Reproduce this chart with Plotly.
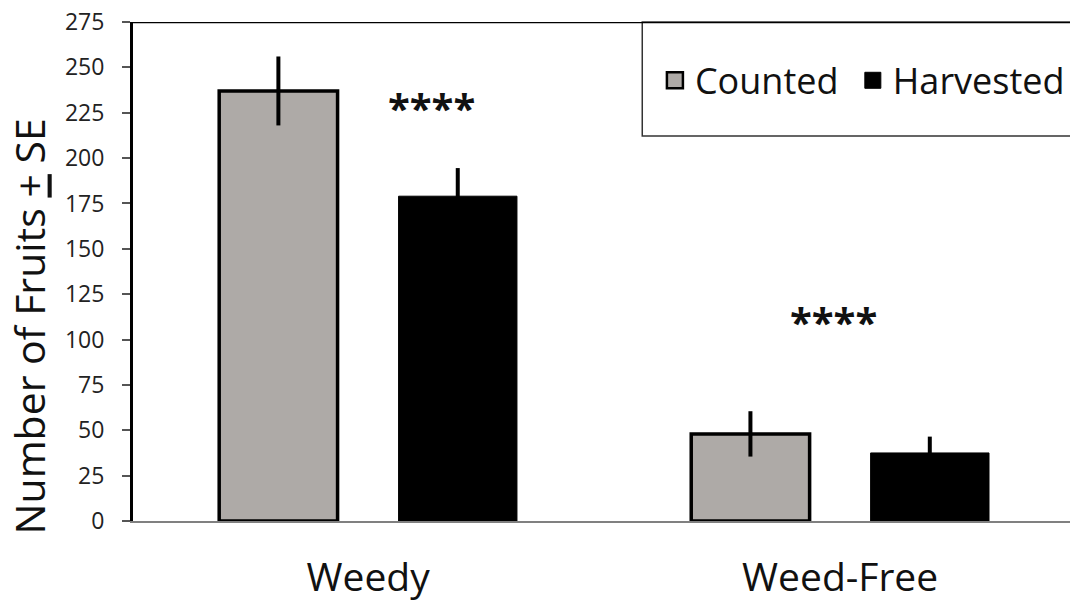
import plotly.graph_objects as go

categories = ["Weedy", "Weed-Free"]
series_names = ["Counted", "Harvested"]
counted = [237, 48]
counted_se = [19, 12.5]
harvested = [179, 37.5]
harvested_se = [15.5, 9]
y_ticks = [0, 25, 50, 75, 100, 125, 150, 175, 200, 225, 250, 275]
sig_labels = ["****", "****"]
sig_x = [0.135, 0.985]
sig_y = [228, 110]

FONT = "Open Sans"
GRAY = "#aeaaa7"

fig = go.Figure()
fig.add_trace(go.Bar(
    name=series_names[0], x=categories, y=counted, showlegend=False,
    marker=dict(color=GRAY, line=dict(color="black", width=3.5)),
    error_y=dict(type="data", array=counted_se, color="black", thickness=4, width=0),
))
fig.add_trace(go.Bar(
    name=series_names[1], x=categories, y=harvested, showlegend=False,
    marker=dict(color="black", line=dict(color="black", width=1)),
    error_y=dict(type="data", array=harvested_se, color="black", thickness=4, width=0),
))
# legend entries (square swatches)
fig.add_trace(go.Scatter(name=series_names[0] + "&nbsp;", x=[None], y=[None], mode="markers",
                         marker=dict(symbol="square", size=16, color=GRAY,
                                     line=dict(color="black", width=2.5))))
fig.add_trace(go.Scatter(name=series_names[1], x=[None], y=[None], mode="markers",
                         marker=dict(symbol="square", size=16, color="black",
                                     line=dict(color="black", width=1))))

annotations = []
for lbl, xx, yy in zip(sig_labels, sig_x, sig_y):
    annotations.append(dict(x=xx, y=yy, xref="x", yref="y", text="<b>" + lbl + "</b>", showarrow=False,
                            font=dict(family=FONT, size=40, color="#111111"),
                            xanchor="center", yanchor="middle"))
annotations.append(dict(x=-0.111, y=0.39, xref="paper", yref="paper",
                        text="Number of Fruits <u>+</u> SE", textangle=-90, showarrow=False,
                        font=dict(family=FONT, size=41, color="#111111"),
                        xanchor="center", yanchor="middle"))

fig.update_layout(
    template="none",
    width=1070, height=604,
    margin=dict(l=133, r=0, t=22, b=83, autoexpand=False),
    paper_bgcolor="white", plot_bgcolor="white",
    barmode="group", bargap=0.24, bargroupgap=0.34,
    showlegend=True,
    legend=dict(orientation="h", x=0.557, y=0.883, xanchor="left", yanchor="middle",
                bgcolor="rgba(0,0,0,0)", borderwidth=0, itemsizing="trace",
                font=dict(family=FONT, size=36, color="#111111"),
                itemwidth=30, traceorder="normal"),
    annotations=annotations,
    shapes=[
        dict(type="line", xref="paper", yref="y", x0=0, x1=1, y0=275, y1=275,
             line=dict(color="black", width=2.5)),
        dict(type="rect", xref="paper", yref="paper", x0=0.5435, x1=1.02, y0=0.7715, y1=1.0,
             line=dict(color="#333333", width=1.5), fillcolor="rgba(0,0,0,0)", layer="below"),
    ],
    xaxis=dict(range=[-0.498, 1.487], showline=True, linecolor="#808080", linewidth=2,
               ticks="", showgrid=False, zeroline=False, automargin=False,
               tickfont=dict(family=FONT, size=39, color="#111111"), ticklabelstandoff=21),
    yaxis=dict(range=[0, 275], tickvals=y_ticks, showline=True, linecolor="black", linewidth=3,
               ticks="outside", ticklen=8, tickcolor="#555555", tickwidth=1.5,
               showgrid=False, zeroline=False, automargin=False,
               tickfont=dict(family=FONT, size=23, color="#222222"), ticklabelstandoff=13),
)

fig.write_html("out.html", config={"displayModeBar": False},
               post_script="document.body.style.margin='0px';")
